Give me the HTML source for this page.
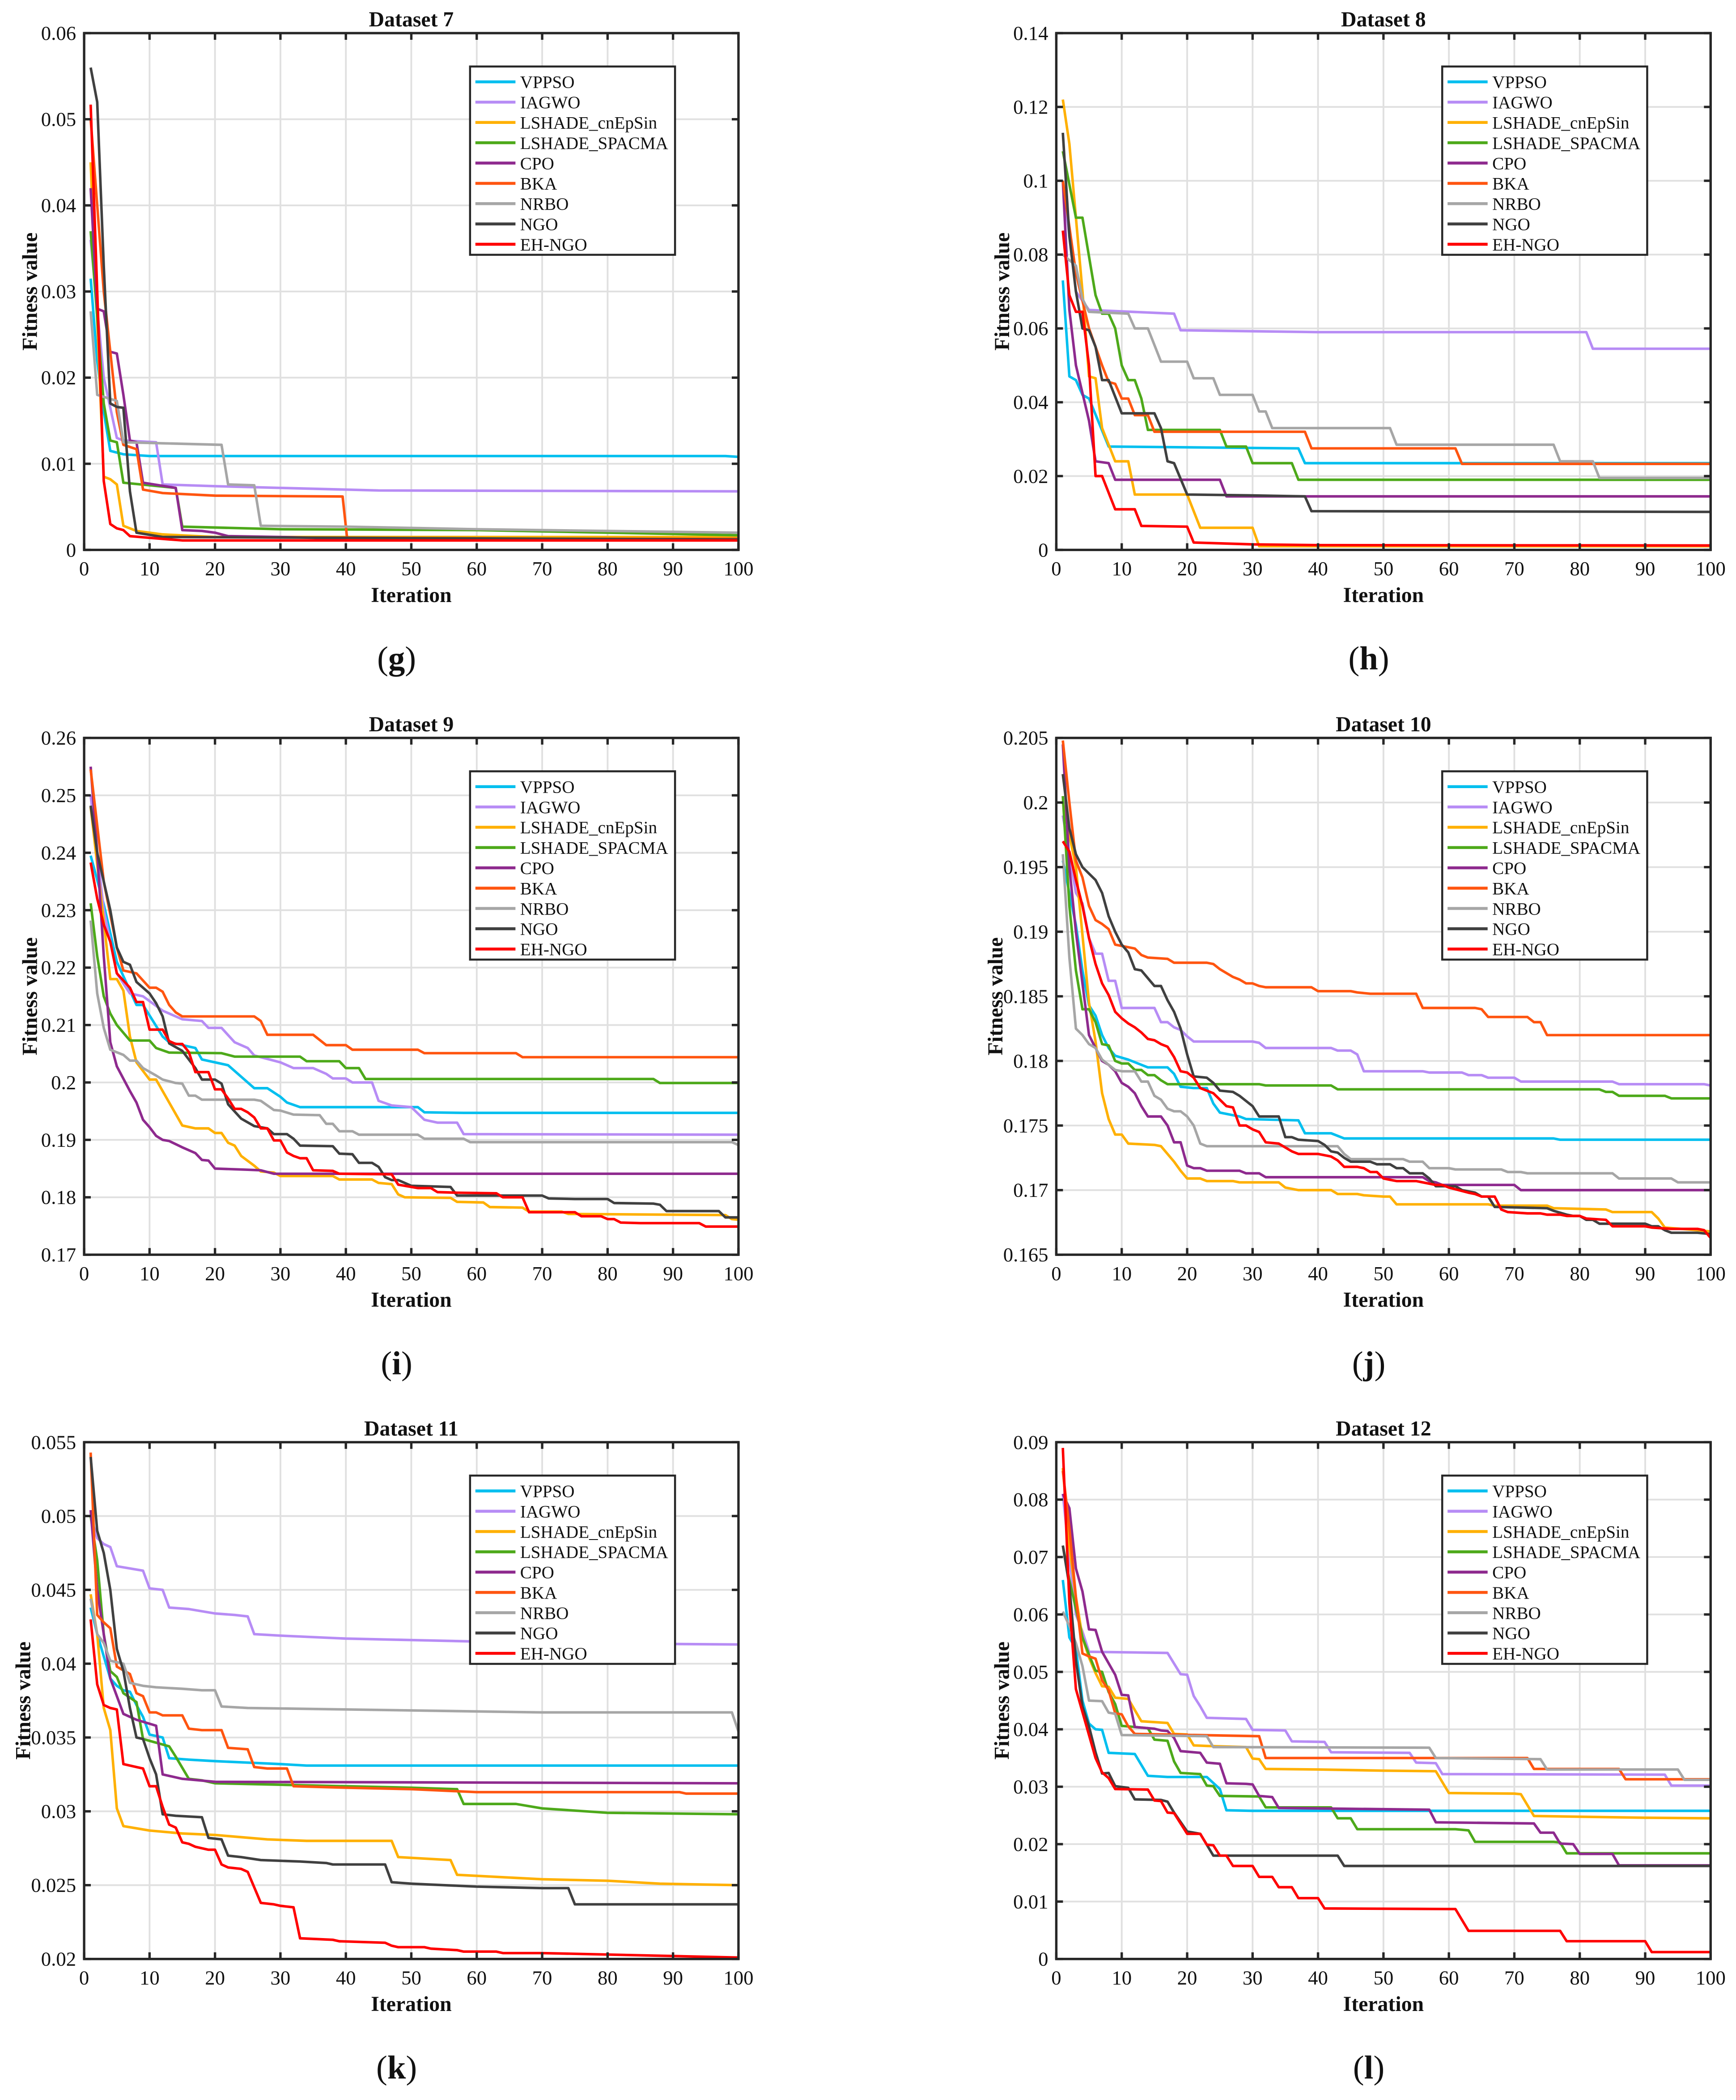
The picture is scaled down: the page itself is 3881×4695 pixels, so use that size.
<!DOCTYPE html>
<html><head><meta charset="utf-8">
<style>
html,body{margin:0;padding:0;background:#fff;}
svg{display:block;}
text{font-family:"Liberation Serif","Times New Roman",serif;fill:#111;}
</style></head>
<body>
<svg id="chart" xmlns="http://www.w3.org/2000/svg" width="3881" height="4695" viewBox="0 0 1300 1572.6" preserveAspectRatio="none"></svg>
<script>
const seriesNames = ["VPPSO","IAGWO","LSHADE_cnEpSin","LSHADE_SPACMA","CPO","BKA","NRBO","NGO","EH-NGO"];
const seriesColors = ["#00BFEF","#B78CF5","#FFB000","#4DA91A","#8E2A8E","#FF5510","#A6A6A6","#404040","#FF0000"];
const xTicks = [0,10,20,30,40,50,60,70,80,90,100];

/* ---------- Dataset 7 ---------- */
const d7_yTicks = [0,0.01,0.02,0.03,0.04,0.05,0.06];
const d7_yLabels = ["0","0.01","0.02","0.03","0.04","0.05","0.06"];
const d7_vppso = [[1,.0315],[2,.022],[3,.016],[4,.0115],[6,.0111],[10,.0109],[98,.0109],[100,.0108]];
const d7_iagwo = [[1,.036],[3,.02],[5,.013],[6,.0127],[11,.0125],[12,.0076],[20,.0074],[30,.0072],[45,.0069],[100,.0068]];
const d7_cnepsin = [[1,.045],[3,.0085],[4,.0082],[5,.0076],[6,.0028],[8,.0022],[12,.0018],[20,.0015],[100,.0015]];
const d7_spacma = [[1,.037],[3,.017],[4,.0127],[5,.0125],[6,.0078],[14,.0072],[15,.0027],[20,.0026],[30,.0024],[60,.0023],[80,.002],[100,.0017]];
const d7_cpo = [[1,.042],[2,.028],[3,.0277],[4,.023],[5,.0228],[6,.018],[7,.0127],[8,.0125],[9,.0078],[14,.0072],[15,.0023],[18,.0022],[20,.002],[22,.0016],[30,.0015],[40,.0013],[100,.0012]];
const d7_bka = [[1,.05],[3,.03],[5,.016],[6,.0122],[8,.0117],[9,.007],[12,.0066],[20,.0063],[39.5,.0062],[40.2,.0013],[100,.0013]];
const d7_nrbo = [[1,.0277],[2,.018],[5,.0173],[6,.0125],[21,.0122],[22,.0076],[26,.0075],[27,.0028],[40,.0027],[60,.0024],[100,.002]];
const d7_ngo = [[1,.056],[2,.052],[3,.033],[4,.017],[5,.0166],[6,.0165],[7,.0068],[8,.002],[12,.0015],[100,.0012]];
const d7_ehngo = [[1,.0517],[2,.03],[3,.008],[4,.003],[5,.0025],[6,.0023],[7,.0016],[10,.0014],[15,.0011],[100,.0011]];

/* ---------- Dataset 8 ---------- */
const d8_yTicks = [0,0.02,0.04,0.06,0.08,0.1,0.12,0.14];
const d8_yLabels = ["0","0.02","0.04","0.06","0.08","0.1","0.12","0.14"];
const d8_vppso = [[1,.073],[2,.047],[3,.046],[4,.042],[5,.041],[8,.028],[37,.0275],[38,.0235],[100,.0235]];
const d8_iagwo = [[1,.1],[3,.07],[5,.065],[18,.064],[19,.0595],[40,.059],[81,.059],[82,.0545],[100,.0545]];
const d8_cnepsin = [[1,.122],[2,.11],[4,.07],[5,.047],[6,.0465],[7,.033],[9,.024],[11,.024],[12,.015],[20,.015],[22,.006],[30,.006],[31,.001],[100,.001]];
const d8_spacma = [[1,.108],[3,.09],[4,.09],[6,.069],[7,.064],[8,.064],[9,.06],[10,.05],[11,.046],[12,.046],[13,.041],[14,.0325],[25,.0325],[26,.028],[29,.028],[30,.0235],[36,.0235],[37,.019],[100,.019]];
const d8_cpo = [[1,.1],[2,.065],[3,.05],[5,.035],[6,.024],[8,.0235],[9,.019],[25,.019],[26,.0145],[100,.0145]];
const d8_bka = [[1,.1],[3,.075],[5,.06],[7,.05],[8,.0455],[9,.045],[10,.041],[11,.041],[12,.0365],[14,.0365],[15,.032],[38,.032],[39,.0275],[61,.0275],[62,.0233],[100,.0233]];
const d8_nrbo = [[1,.08],[3,.077],[4,.068],[5,.0645],[11,.064],[12,.06],[14,.06],[16,.051],[20,.051],[21,.0465],[24,.0465],[25,.042],[30,.042],[31,.0375],[32,.0375],[33,.033],[51,.033],[52,.0285],[76,.0285],[77,.024],[82,.024],[83,.0195],[100,.0195]];
const d8_ngo = [[1,.113],[2,.085],[3,.07],[4,.06],[5,.0595],[6,.055],[7,.046],[8,.046],[10,.037],[15,.037],[16,.033],[17,.024],[18,.0235],[20,.015],[29,.0148],[38,.0145],[39,.0105],[100,.0103]];
const d8_ehngo = [[1,.0865],[2,.069],[3,.0645],[4,.0645],[5,.05],[6,.02],[7,.02],[9,.011],[12,.011],[13,.0065],[20,.0063],[21,.002],[30,.0015],[40,.0013],[100,.0012]];

/* ---------- Dataset 9 ---------- */
const d9_yTicks = [0.17,0.18,0.19,0.2,0.21,0.22,0.23,0.24,0.25,0.26];
const d9_yLabels = ["0.17","0.18","0.19","0.2","0.21","0.22","0.23","0.24","0.25","0.26"];
const d9_vppso = [[1,.2395],[3,.231],[5,.221],[8,.2135],[9,.2135],[12,.208],[13,.207],[17,.206],[18,.204],[22,.203],[26,.199],[28,.199],[30,.1975],[31,.1965],[33,.1957],[51,.1957],[52,.1948],[58,.1947],[100,.1947]];
const d9_iagwo = [[1,.25],[3,.23],[5,.219],[7,.2155],[9,.215],[12,.2125],[15,.211],[18,.2107],[19,.2095],[21,.2095],[23,.207],[25,.206],[26,.2047],[30,.2035],[32,.2025],[35,.2025],[37,.2015],[38,.2007],[40,.2007],[41,.2],[44,.2],[45,.1968],[47,.196],[50,.1957],[52,.1935],[54,.193],[57,.193],[58,.191],[100,.1909]];
const d9_cnepsin = [[1,.248],[3,.228],[4,.218],[5,.218],[6,.216],[7,.208],[8,.2035],[10,.2005],[11,.2005],[13,.1965],[15,.1925],[17,.192],[19,.192],[20,.1912],[21,.1912],[22,.1895],[23,.189],[24,.1872],[26,.1855],[27,.1845],[29,.1843],[30,.1837],[38,.1837],[39,.1831],[44,.1831],[45,.1825],[47,.1823],[48,.1805],[49,.18],[56,.1799],[57,.1792],[61,.1791],[62,.1783],[67,.1782],[68,.1775],[73,.1775],[74,.1771],[98,.1769],[99,.1762],[100,.1761]];
const d9_spacma = [[1,.2312],[2,.222],[3,.215],[4,.212],[5,.21],[7,.2073],[10,.2073],[11,.206],[13,.2052],[21,.2051],[23,.2045],[33,.2045],[34,.2037],[39,.2037],[40,.2025],[42,.2025],[43,.2006],[87,.2006],[88,.1999],[100,.1999]];
const d9_cpo = [[1,.255],[2,.24],[3,.222],[4,.207],[5,.2028],[7,.1985],[8,.1965],[9,.1935],[10,.1922],[11,.1907],[12,.19],[13,.1898],[15,.1887],[17,.1877],[18,.1865],[19,.1864],[20,.185],[25,.1848],[27,.1847],[29,.1841],[100,.1841]];
const d9_bka = [[1,.2545],[3,.235],[5,.2235],[6,.2195],[8,.219],[10,.2165],[11,.2165],[12,.2158],[13,.2135],[14,.2122],[15,.2115],[26,.2115],[27,.2107],[28,.2083],[35,.2083],[37,.2065],[40,.2065],[41,.2057],[51,.2057],[52,.2051],[66,.2051],[67,.2044],[100,.2044]];
const d9_nrbo = [[1,.2282],[2,.2155],[3,.2095],[4,.2057],[6,.2048],[7,.2038],[8,.2038],[9,.2025],[11,.2012],[12,.2005],[14,.1999],[15,.1998],[16,.1977],[17,.1977],[18,.197],[26,.197],[27,.1968],[29,.1952],[30,.1951],[32,.1944],[36,.1943],[37,.1928],[38,.1928],[39,.1915],[41,.1915],[42,.1909],[51,.1909],[52,.1902],[58,.1902],[59,.1896],[99,.1896],[100,.1891]];
const d9_ngo = [[1,.2482],[2,.24],[4,.23],[5,.2235],[6,.221],[7,.2205],[8,.2175],[10,.2155],[11,.2138],[12,.2115],[13,.2068],[15,.2055],[17,.2025],[18,.2005],[20,.2005],[21,.1998],[22,.1962],[24,.1937],[26,.1924],[28,.192],[29,.191],[31,.191],[32,.1902],[33,.189],[38,.1889],[39,.1876],[41,.1875],[42,.186],[44,.186],[45,.1853],[46,.1835],[47,.183],[48,.183],[50,.182],[56,.1818],[57,.1803],[70,.1803],[71,.1798],[75,.1797],[80,.1797],[81,.179],[87,.1789],[88,.1787],[89,.1776],[97,.1776],[98,.1765],[100,.1765]];
const d9_ehngo = [[1,.2383],[2,.232],[3,.2275],[4,.2245],[5,.219],[7,.2165],[8,.214],[9,.214],[10,.2092],[12,.2092],[13,.2072],[14,.2067],[15,.2067],[16,.2053],[17,.2018],[19,.2018],[20,.1988],[21,.1988],[22,.1972],[23,.1954],[24,.1954],[25,.1948],[26,.1939],[27,.192],[28,.192],[29,.1899],[30,.1899],[31,.1878],[32,.1872],[33,.1868],[34,.1868],[35,.1847],[38,.1846],[39,.1841],[47,.184],[48,.1822],[51,.1816],[53,.1816],[54,.1809],[57,.1808],[63,.1807],[64,.18],[67,.18],[68,.1774],[75,.1774],[76,.1767],[79,.1767],[80,.1762],[81,.1762],[82,.1756],[85,.1755],[94,.1755],[95,.1749],[100,.1749]];

/* ---------- Dataset 10 ---------- */
const d10_yTicks = [0.165,0.17,0.175,0.18,0.185,0.19,0.195,0.2,0.205];
const d10_yLabels = ["0.165","0.17","0.175","0.18","0.185","0.19","0.195","0.2","0.205"];
const d10_vppso = [[1,.1955],[2,.193],[3,.1905],[4,.187],[5,.1843],[6,.1835],[7,.182],[8,.181],[9,.1804],[11,.1801],[14,.1795],[17,.1795],[18,.179],[19,.178],[21,.1779],[23,.1779],[24,.1767],[25,.176],[27,.1758],[28,.1757],[29,.1755],[37,.1754],[38,.1744],[42,.1744],[43,.1742],[44,.174],[76,.174],[77,.1739],[100,.1739]];
const d10_iagwo = [[1,.199],[3,.193],[4,.1922],[5,.1895],[6,.1883],[7,.1883],[8,.1862],[9,.1862],[10,.1841],[15,.1841],[16,.183],[17,.183],[18,.1826],[19,.1824],[20,.1819],[21,.1815],[30,.1815],[31,.1814],[32,.181],[42,.181],[43,.1808],[45,.1808],[46,.1805],[47,.1792],[56,.1792],[57,.1791],[62,.1791],[63,.1789],[65,.1789],[66,.1787],[70,.1787],[71,.1784],[85,.1784],[86,.1782],[99,.1782],[100,.1781]];
const d10_cnepsin = [[1,.2],[3,.195],[5,.1845],[6,.1815],[7,.1775],[8,.1755],[9,.1743],[10,.1743],[11,.1736],[15,.1735],[16,.1734],[18,.1722],[19,.1715],[20,.1709],[22,.1709],[23,.1707],[27,.1707],[28,.1706],[34,.1706],[35,.1702],[37,.17],[42,.17],[43,.1697],[46,.1697],[47,.1696],[50,.1695],[51,.1695],[52,.1689],[66,.1689],[67,.1688],[75,.1688],[76,.1686],[84,.1685],[85,.1683],[91,.1683],[92,.1678],[93,.1671],[98,.1669],[100,.1668]];
const d10_spacma = [[1,.2005],[2,.192],[3,.187],[4,.184],[5,.184],[6,.183],[7,.1813],[8,.1812],[9,.18],[10,.1798],[11,.1798],[12,.1793],[13,.1793],[14,.1789],[15,.1789],[16,.1785],[17,.1782],[31,.1782],[32,.1781],[42,.1781],[43,.1778],[83,.1778],[84,.1776],[85,.1776],[86,.1773],[93,.1773],[94,.1771],[100,.1771]];
const d10_cpo = [[1,.2045],[2,.195],[3,.19],[4,.186],[5,.182],[6,.181],[7,.18],[8,.1797],[9,.1792],[10,.1783],[11,.178],[12,.1775],[13,.1765],[14,.1757],[16,.1757],[17,.175],[18,.1737],[19,.1737],[20,.1719],[21,.1717],[22,.1717],[23,.1715],[28,.1715],[29,.1713],[31,.1713],[32,.171],[56,.171],[57,.1707],[58,.1706],[59,.1704],[70,.1704],[71,.17],[100,.17]];
const d10_bka = [[1,.2048],[2,.2],[3,.1955],[4,.1942],[5,.192],[6,.1909],[7,.1906],[8,.1902],[9,.189],[12,.1887],[13,.1882],[14,.188],[17,.1879],[18,.1876],[23,.1876],[24,.1875],[25,.1871],[27,.1865],[28,.1863],[29,.186],[30,.186],[31,.1858],[32,.1857],[39,.1857],[40,.1854],[45,.1854],[46,.1853],[48,.1852],[55,.1852],[56,.1841],[64,.1841],[65,.184],[66,.1834],[72,.1834],[73,.183],[74,.183],[75,.182],[100,.182]];
const d10_nrbo = [[1,.196],[2,.188],[3,.1825],[4,.182],[5,.1813],[6,.181],[7,.1801],[8,.1797],[9,.1793],[10,.1792],[12,.1792],[13,.1784],[14,.1784],[15,.1773],[16,.177],[17,.1763],[18,.1761],[19,.1761],[20,.1757],[21,.175],[22,.1736],[23,.1734],[43,.1734],[44,.1728],[45,.1724],[53,.1724],[54,.1722],[56,.1722],[57,.1717],[60,.1717],[61,.1716],[68,.1716],[69,.1714],[71,.1714],[72,.1713],[85,.1713],[86,.1709],[94,.1709],[95,.1706],[100,.1706]];
const d10_ngo = [[1,.2022],[2,.198],[3,.196],[4,.195],[5,.1945],[6,.194],[7,.193],[8,.1912],[9,.19],[10,.189],[11,.1884],[12,.1871],[13,.187],[15,.1858],[16,.1858],[17,.1847],[18,.1838],[19,.1825],[20,.1805],[21,.1788],[23,.1787],[24,.1783],[25,.1777],[27,.1776],[28,.1773],[29,.1769],[30,.1765],[31,.1757],[34,.1757],[35,.1741],[36,.1741],[37,.1739],[40,.1738],[41,.1735],[42,.173],[43,.1729],[44,.1725],[45,.1722],[48,.1722],[49,.172],[51,.172],[52,.1717],[53,.1717],[54,.1713],[56,.1713],[57,.1709],[58,.1703],[61,.1703],[62,.17],[64,.1698],[65,.1695],[66,.1695],[67,.1687],[75,.1686],[76,.1684],[78,.1681],[79,.168],[80,.168],[81,.1677],[82,.1677],[83,.1674],[90,.1674],[91,.1672],[92,.1672],[93,.1669],[94,.1667],[98,.1667],[100,.1666]];
const d10_ehngo = [[1,.197],[2,.1962],[3,.194],[4,.192],[5,.1895],[6,.1875],[7,.186],[8,.1851],[9,.1838],[10,.1833],[11,.1829],[12,.1826],[13,.1822],[14,.1817],[15,.1816],[16,.1813],[17,.1811],[18,.1803],[19,.1792],[20,.1791],[21,.1787],[22,.1779],[23,.1777],[24,.1775],[25,.177],[26,.1765],[27,.1764],[28,.175],[29,.175],[30,.1747],[31,.1745],[32,.1737],[34,.1736],[35,.1733],[36,.173],[37,.1728],[40,.1728],[41,.1727],[42,.1726],[43,.1723],[44,.1718],[46,.1718],[47,.1717],[48,.1714],[49,.1714],[50,.1709],[51,.1708],[52,.1707],[55,.1707],[56,.1706],[58,.1704],[59,.1704],[60,.1702],[63,.1698],[64,.1697],[65,.1695],[67,.1695],[68,.1685],[69,.1683],[72,.1682],[74,.1682],[75,.1681],[77,.1681],[78,.168],[80,.168],[81,.1678],[84,.1677],[85,.1672],[90,.1672],[91,.1671],[94,.167],[98,.167],[99,.1669],[100,.1663]];

/* ---------- Dataset 11 ---------- */
const d11_yTicks = [0.02,0.025,0.03,0.035,0.04,0.045,0.05,0.055];
const d11_yLabels = ["0.02","0.025","0.03","0.035","0.04","0.045","0.05","0.055"];
const d11_vppso = [[1,.0438],[2,.042],[4,.039],[5,.0385],[6,.0382],[7,.0381],[8,.0372],[9,.0364],[10,.0352],[12,.035],[13,.0336],[16,.0335],[20,.0334],[25,.0333],[30,.0332],[34,.0331],[100,.0331]];
const d11_iagwo = [[1,.05],[2,.0485],[3,.0481],[4,.0479],[5,.0466],[9,.0463],[10,.0451],[12,.045],[13,.0438],[16,.0437],[20,.0434],[23,.0433],[25,.0432],[26,.042],[30,.0419],[40,.0417],[50,.0416],[60,.0415],[70,.0414],[100,.0413]];
const d11_cnepsin = [[1,.0447],[2,.042],[3,.037],[4,.0355],[5,.0302],[6,.029],[10,.0287],[15,.0285],[20,.0284],[28,.0281],[34,.028],[47,.028],[48,.0269],[56,.0267],[57,.0257],[70,.0254],[80,.0253],[88,.0251],[100,.025]];
const d11_spacma = [[1,.05],[2,.047],[3,.042],[4,.0395],[5,.0391],[6,.038],[7,.0377],[8,.0374],[9,.0349],[13,.0344],[14,.0337],[16,.0322],[18,.0321],[20,.0319],[30,.0318],[50,.0316],[57,.0315],[58,.0305],[66,.0305],[70,.0302],[80,.0299],[100,.0298]];
const d11_cpo = [[1,.0504],[2,.045],[3,.042],[4,.039],[6,.0366],[8,.0362],[11,.0358],[12,.0325],[15,.0322],[20,.032],[100,.0319]];
const d11_bka = [[1,.0543],[2,.0433],[3,.0428],[4,.0424],[5,.0398],[7,.0393],[8,.038],[9,.0378],[10,.0367],[11,.0367],[12,.0365],[15,.0365],[16,.0356],[18,.0355],[21,.0355],[22,.0343],[25,.0342],[26,.033],[28,.0329],[31,.0329],[32,.0317],[40,.0316],[50,.0315],[55,.0314],[60,.0313],[91,.0313],[92,.0312],[100,.0312]];
const d11_nrbo = [[1,.0444],[2,.042],[3,.0414],[4,.0402],[6,.04],[7,.0387],[9,.0385],[11,.0384],[15,.0383],[18,.0382],[20,.0382],[21,.0371],[25,.037],[40,.0369],[55,.0368],[70,.0367],[99,.0367],[100,.0354]];
const d11_ngo = [[1,.054],[2,.049],[3,.0475],[4,.045],[5,.041],[6,.0395],[7,.037],[8,.035],[9,.0349],[10,.0336],[11,.0325],[12,.0298],[14,.0297],[18,.0296],[19,.0282],[21,.0281],[22,.027],[24,.0269],[27,.0267],[33,.0266],[37,.0265],[38,.0264],[46,.0264],[47,.0252],[50,.0251],[55,.025],[60,.0249],[70,.0248],[74,.0248],[75,.0237],[100,.0237]];
const d11_ehngo = [[1,.043],[2,.0386],[3,.0372],[4,.037],[5,.0369],[6,.0332],[8,.033],[9,.0329],[10,.0317],[11,.0317],[12,.0303],[13,.0291],[14,.0289],[15,.0279],[16,.0278],[17,.0276],[19,.0274],[20,.0274],[21,.0264],[22,.0262],[24,.0261],[25,.0259],[27,.0238],[29,.0237],[30,.0236],[32,.0235],[33,.0214],[38,.0213],[39,.0212],[46,.0211],[47,.0209],[48,.0208],[52,.0208],[53,.0207],[57,.0206],[58,.0205],[63,.0205],[64,.0204],[70,.0204],[80,.0203],[90,.0202],[100,.0201]];

/* ---------- Dataset 12 ---------- */
const d12_yTicks = [0,0.01,0.02,0.03,0.04,0.05,0.06,0.07,0.08,0.09];
const d12_yLabels = ["0","0.01","0.02","0.03","0.04","0.05","0.06","0.07","0.08","0.09"];
const d12_vppso = [[1,.066],[2,.056],[3,.054],[4,.045],[5,.041],[6,.04],[7,.0399],[8,.0359],[12,.0357],[14,.0319],[17,.0317],[23,.0317],[25,.0296],[26,.0259],[30,.0258],[100,.0258]];
const d12_iagwo = [[1,.081],[2,.07],[3,.06],[4,.057],[5,.0535],[17,.0533],[19,.0496],[20,.0495],[21,.0458],[22,.044],[23,.042],[29,.0418],[30,.0399],[35,.0398],[36,.0379],[41,.0378],[42,.036],[54,.0359],[55,.0342],[58,.0341],[59,.0322],[93,.0321],[94,.0302],[100,.0302]];
const d12_cnepsin = [[1,.0855],[2,.072],[3,.063],[4,.056],[5,.0525],[6,.0498],[7,.0475],[8,.0474],[9,.0455],[11,.0453],[13,.0414],[17,.0411],[18,.0392],[20,.0391],[21,.0372],[23,.0371],[29,.0369],[30,.0349],[31,.0348],[32,.0331],[40,.033],[50,.0328],[58,.0327],[60,.0289],[70,.0288],[71,.0287],[73,.0249],[90,.0246],[100,.0245]];
const d12_spacma = [[1,.072],[2,.066],[3,.061],[4,.056],[5,.053],[6,.0502],[7,.05],[8,.0465],[9,.0444],[10,.0406],[11,.0405],[14,.0402],[15,.0382],[17,.038],[18,.0344],[19,.0324],[22,.0322],[23,.0302],[24,.0301],[25,.0284],[31,.0283],[32,.0264],[42,.0264],[43,.0245],[45,.0245],[46,.0226],[61,.0226],[63,.0224],[64,.0204],[76,.0204],[77,.0203],[78,.0184],[100,.0184]];
const d12_cpo = [[1,.081],[2,.0785],[3,.068],[4,.064],[5,.0574],[6,.0573],[7,.0535],[8,.0515],[9,.0495],[10,.046],[11,.0459],[12,.0404],[15,.0401],[16,.0398],[17,.0397],[18,.0385],[19,.0362],[21,.036],[22,.0359],[23,.0342],[25,.034],[26,.0306],[29,.0305],[30,.0304],[31,.0284],[33,.0282],[34,.0263],[57,.026],[58,.0238],[73,.0236],[74,.022],[76,.022],[77,.0201],[79,.02],[80,.0183],[85,.0183],[86,.0163],[100,.0163]];
const d12_bka = [[1,.085],[2,.075],[3,.063],[4,.0532],[5,.0527],[6,.0523],[7,.0485],[8,.0468],[9,.0428],[10,.0426],[11,.0405],[12,.0392],[31,.0388],[32,.035],[72,.035],[73,.0331],[86,.0331],[87,.0313],[100,.0313]];
const d12_nrbo = [[1,.0605],[2,.058],[3,.055],[4,.051],[5,.045],[7,.0449],[8,.0429],[9,.0427],[10,.039],[23,.0388],[24,.0369],[57,.0368],[58,.035],[74,.0348],[75,.033],[95,.033],[96,.0312],[100,.0312]];
const d12_ngo = [[1,.072],[2,.065],[3,.052],[4,.044],[5,.0405],[6,.036],[7,.0323],[8,.0324],[9,.0301],[11,.0298],[12,.0278],[16,.0277],[17,.0274],[18,.0255],[20,.0222],[22,.0218],[23,.0199],[24,.018],[43,.018],[44,.0162],[100,.0162]];
const d12_ehngo = [[1,.089],[2,.062],[3,.047],[4,.043],[5,.039],[6,.035],[7,.0325],[8,.0315],[9,.0296],[14,.0295],[15,.0276],[16,.0275],[17,.0255],[18,.0254],[20,.0218],[22,.0218],[23,.0199],[24,.0198],[25,.018],[26,.018],[27,.0162],[30,.0162],[31,.0143],[33,.0143],[34,.0125],[36,.0125],[37,.0106],[40,.0106],[41,.0088],[60,.0087],[61,.0087],[63,.0049],[77,.0049],[78,.0031],[90,.0031],[91,.0012],[100,.0012]];

const panels = [
  {key:"dataset-7", title:"Dataset 7", tag:"g", col:0, row:0, ymin:0, ymax:0.06, yt:d7_yTicks, yl:d7_yLabels,
   data:[d7_vppso,d7_iagwo,d7_cnepsin,d7_spacma,d7_cpo,d7_bka,d7_nrbo,d7_ngo,d7_ehngo]},
  {key:"dataset-8", title:"Dataset 8", tag:"h", col:1, row:0, ymin:0, ymax:0.14, yt:d8_yTicks, yl:d8_yLabels,
   data:[d8_vppso,d8_iagwo,d8_cnepsin,d8_spacma,d8_cpo,d8_bka,d8_nrbo,d8_ngo,d8_ehngo]},
  {key:"dataset-9", title:"Dataset 9", tag:"i", col:0, row:1, ymin:0.17, ymax:0.26, yt:d9_yTicks, yl:d9_yLabels,
   data:[d9_vppso,d9_iagwo,d9_cnepsin,d9_spacma,d9_cpo,d9_bka,d9_nrbo,d9_ngo,d9_ehngo]},
  {key:"dataset-10", title:"Dataset 10", tag:"j", col:1, row:1, ymin:0.165, ymax:0.205, yt:d10_yTicks, yl:d10_yLabels,
   data:[d10_vppso,d10_iagwo,d10_cnepsin,d10_spacma,d10_cpo,d10_bka,d10_nrbo,d10_ngo,d10_ehngo]},
  {key:"dataset-11", title:"Dataset 11", tag:"k", col:0, row:2, ymin:0.02, ymax:0.055, yt:d11_yTicks, yl:d11_yLabels,
   data:[d11_vppso,d11_iagwo,d11_cnepsin,d11_spacma,d11_cpo,d11_bka,d11_nrbo,d11_ngo,d11_ehngo]},
  {key:"dataset-12", title:"Dataset 12", tag:"l", col:1, row:2, ymin:0, ymax:0.09, yt:d12_yTicks, yl:d12_yLabels,
   data:[d12_vppso,d12_iagwo,d12_cnepsin,d12_spacma,d12_cpo,d12_bka,d12_nrbo,d12_ngo,d12_ehngo]}
];

const NS = "http://www.w3.org/2000/svg";
const svg = document.getElementById("chart");
function mk(tag, attrs, parent, txt){
  const e = document.createElementNS(NS, tag);
  for (const k in attrs) e.setAttribute(k, attrs[k]);
  if (txt !== undefined) e.textContent = txt;
  parent.appendChild(e);
  return e;
}
const W = 490, H = 387;
const colX = [63, 791], rowY = [24.8, 552.6, 1080];

panels.forEach(p => {
  const X0 = colX[p.col], Y0 = rowY[p.row], X1 = X0 + W, Y1 = Y0 + H;
  const xs = v => X0 + v / 100 * W;
  const ys = v => Y1 - (v - p.ymin) / (p.ymax - p.ymin) * H;
  const g = mk("g", {}, svg);
  
  
  mk("rect", {x:X0, y:Y0, width:W, height:H, fill:"#fff"}, g);
  // grid
  const grid = mk("g", {stroke:"#e0e0e0", "stroke-width":1.3}, g);
  
  
  xTicks.forEach(t => { if (t>0 && t<100) mk("line", {x1:xs(t), x2:xs(t), y1:Y0, y2:Y1}, grid); });
  p.yt.forEach((t,i) => { if (i>0 && i<p.yt.length-1) mk("line", {x1:X0, x2:X1, y1:ys(t), y2:ys(t)}, grid); });
  // series
  const clipId = "clip-" + p.key;
  const cp = mk("clipPath", {id:clipId}, g);
  mk("rect", {x:X0, y:Y0, width:W, height:H}, cp);
  const sg = mk("g", {"clip-path":"url(#"+clipId+")"}, g);
  p.data.forEach((arr, si) => {
    const d = arr.map((pt,i) => (i?"L":"M") + xs(pt[0]).toFixed(2) + " " + ys(pt[1]).toFixed(2)).join(" ");
    const path = mk("path", {d:d, fill:"none", stroke:seriesColors[si], "stroke-width":1.9, "stroke-linejoin":"round"}, sg);
    
    
  });
  // axes box
  const box = mk("rect", {x:X0, y:Y0, width:W, height:H, fill:"none", stroke:"#262626", "stroke-width":1.8}, g);
  
  
  const tk = mk("g", {stroke:"#262626", "stroke-width":1.8}, g);
  xTicks.forEach(t => {
    mk("line", {x1:xs(t), x2:xs(t), y1:Y1, y2:Y1-5}, tk);
    mk("line", {x1:xs(t), x2:xs(t), y1:Y0, y2:Y0+5}, tk);
  });
  p.yt.forEach(t => {
    mk("line", {x1:X0, x2:X0+5, y1:ys(t), y2:ys(t)}, tk);
    mk("line", {x1:X1, x2:X1-5, y1:ys(t), y2:ys(t)}, tk);
  });
  // tick labels
  xTicks.forEach(t => {
    const e = mk("text", {x:xs(t), y:Y1+19, "font-size":15, "text-anchor":"middle"}, g, String(t));
    
    
  });
  p.yt.forEach((t,i) => {
    const e = mk("text", {x:X0-6, y:ys(t)+5, "font-size":15, "text-anchor":"end"}, g, p.yl[i]);
    
    
  });
  const ti = mk("text", {x:(X0+X1)/2, y:Y0-5, "font-size":16, "font-weight":"bold", "text-anchor":"middle"}, g, p.title);
  
  
  const xl = mk("text", {x:(X0+X1)/2, y:Y1+39, "font-size":16, "font-weight":"bold", "text-anchor":"middle"}, g, "Iteration");
  
  
  const yx = (p.yl[p.yl.length-1].length > 4) ? X0-46 : X0-41;
  const yl = mk("text", {x:yx, y:(Y0+Y1)/2, "font-size":16, "font-weight":"bold", "text-anchor":"middle",
    transform:"rotate(-90 "+yx+" "+((Y0+Y1)/2)+")", dy:"0.35em"}, g, "Fitness value");
  
  
  // legend
  const lg = mk("g", {}, g);
  
  
  const LX = X0 + 289, LY = Y0 + 25;
  mk("rect", {x:LX, y:LY, width:153.5, height:141, fill:"#fff", stroke:"#262626", "stroke-width":1.5}, lg);
  seriesNames.forEach((n, si) => {
    const yy = LY + 11.5 + si * 15.2;
    const ent = mk("g", {}, lg);
    
    
    mk("line", {x1:LX+4, x2:LX+34, y1:yy, y2:yy, stroke:seriesColors[si], "stroke-width":2.2}, ent);
    mk("text", {x:LX+37.5, y:yy+4.6, "font-size":13.1}, ent, n);
  });
  // panel label
  const cx = X0 + 234, by = Y1 + 89.5;
  const lab = mk("text", {x:cx, y:by, "font-size":25, "text-anchor":"middle"}, svg);
  
  
  mk("tspan", {}, lab, "(");
  mk("tspan", {"font-weight":"bold"}, lab, p.tag);
  mk("tspan", {}, lab, ")");
});
</script>
</body></html>
